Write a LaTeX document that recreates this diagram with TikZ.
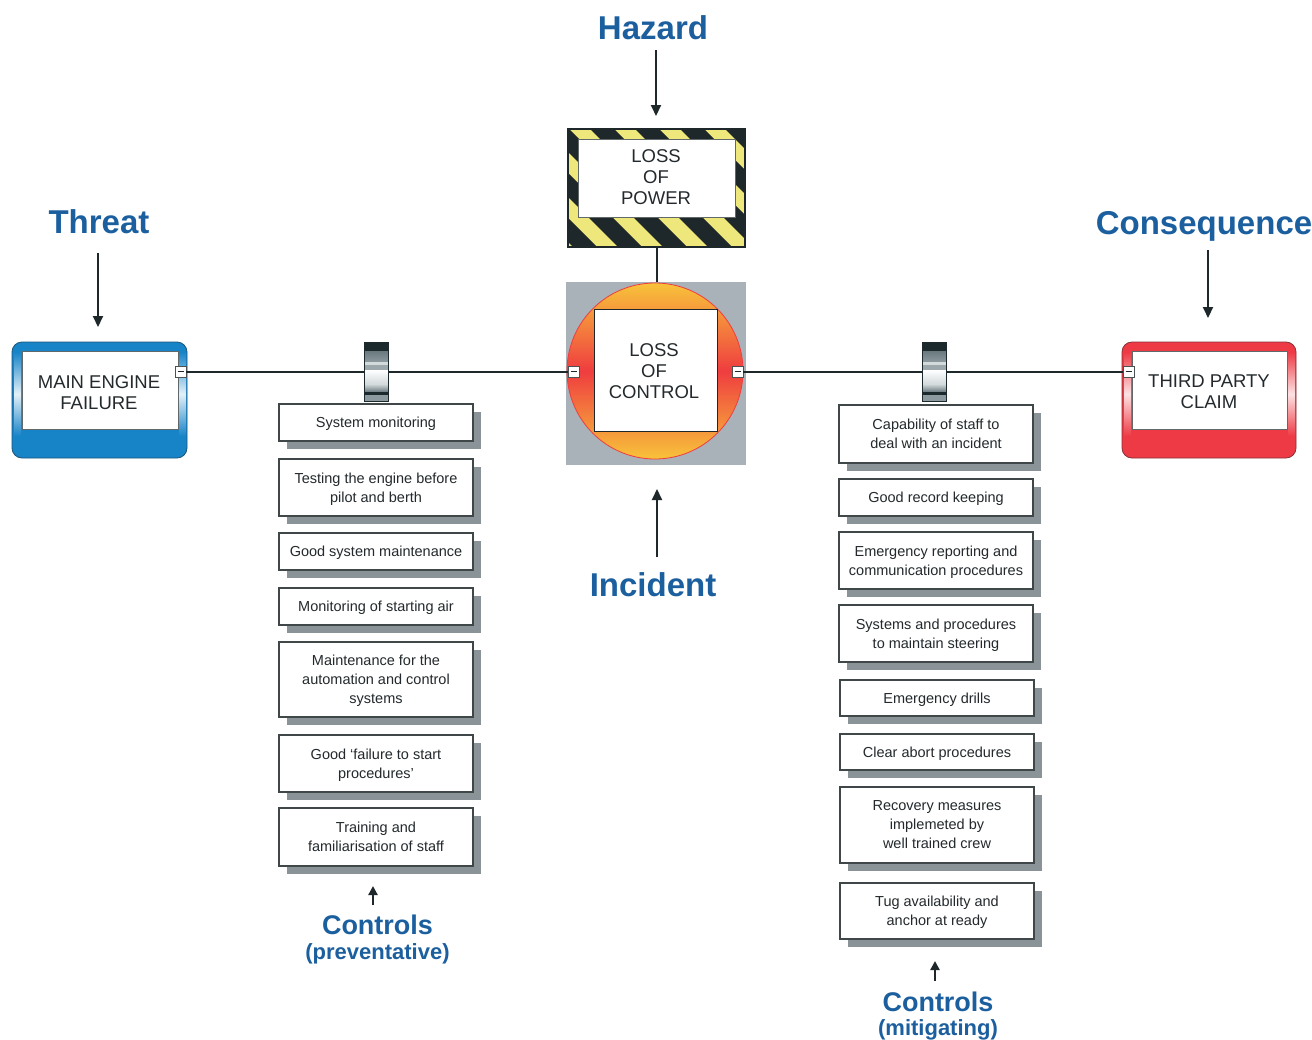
\documentclass[tikz,border=0pt]{standalone}
\usepackage{fontspec}
\setmainfont{Liberation Sans}
\usetikzlibrary{arrows.meta,shadows}
\definecolor{lblue}{HTML}{1B5F9F}
\definecolor{ink}{HTML}{1E2729}
\definecolor{txt}{HTML}{23292C}
\definecolor{shgray}{HTML}{8A9398}
\definecolor{sqgray}{HTML}{A9B1B9}
\definecolor{hyel}{HTML}{EEE87C}
\definecolor{tblue}{HTML}{1784C8}
\definecolor{cred}{HTML}{EE3A44}
\definecolor{cyel}{HTML}{F8C33A}
\definecolor{cmid}{HTML}{EF3D3F}
\definecolor{bdark}{HTML}{1C2A2E}
\definecolor{bgray}{HTML}{8C999E}
\definecolor{bmid}{HTML}{6A797E}
\definecolor{blight}{HTML}{D3DADC}
\newcommand{\barrierat}[1]{%
 \fill[bdark] ({#1-12},342) rectangle ({#1+12},351);
 \fill[top color=bmid, bottom color=bgray] ({#1-12},351) rectangle ({#1+12},362);
 \fill[blight] ({#1-12},362) rectangle ({#1+12},365);
 \fill[bgray!85!white] ({#1-12},365) rectangle ({#1+12},370);
 \fill[top color=white, bottom color=blight] ({#1-12},370) rectangle ({#1+12},384);
 \fill[top color=blight, bottom color=bmid] ({#1-12},384) rectangle ({#1+12},392);
 \fill[bdark] ({#1-12},392) rectangle ({#1+12},395);
 \fill[bgray] ({#1-12},395) rectangle ({#1+12},401);
 \draw[bdark, line width=0.8pt] ({#1-12},342) rectangle ({#1+12},401);
}
\begin{document}
\begin{tikzpicture}[x=1pt,y=-1pt,
  conn/.style={draw=ink, line width=2pt},
  ctrl/.style={draw=ink!85, line width=1.1pt, fill=white, minimum width=194pt, inner sep=0pt, align=center, font=\fontsize{14.5}{19}\selectfont, text=txt, drop shadow={shadow xshift=8pt, shadow yshift=-8pt, opacity=1, fill=shgray}},
  lbl/.style={text=lblue, anchor=base, font=\fontsize{33}{36}\selectfont\bfseries},
  sublbl/.style={text=lblue, anchor=base, font=\fontsize{27}{30}\selectfont\bfseries},
  subsub/.style={text=lblue, anchor=base, font=\fontsize{22}{24}\selectfont\bfseries},
  evt/.style={text=txt, align=center, font=\fontsize{18.5}{21}\selectfont},
  plain/.style={inner sep=0pt, outer sep=0pt},
  minusbox/.style={draw=ink!80, fill=white, line width=0.8pt, minimum width=11pt, minimum height=11pt, inner sep=0pt, path picture={\draw[ink, line width=0.9pt] ([xshift=-3pt]path picture bounding box.center) -- ([xshift=3pt]path picture bounding box.center);}},
  arr/.style={draw=ink, line width=2pt, -{Triangle[length=11pt,width=10pt]}},
  sarr/.style={draw=ink, line width=2.2pt, -{Triangle[length=9pt,width=9pt]}},
]
\useasboundingbox (0,0) rectangle (1312,1039);
\fill[white] (0,0) rectangle (1312,1039);

% ---------- labels ----------
\node[lbl] (hazlbl) at (653,39) {Hazard};
\node[lbl] (thrlbl) at (99,233) {Threat};
\node[lbl] (conlbl) at (1204,234) {Consequence};
\node[lbl] (inclbl) at (653,596) {Incident};
\node[sublbl] (pc) at (377.5,934) {Controls};
\node[subsub] (pcs) at (377.5,959) {(preventative)};
\node[sublbl] (mc) at (938,1011) {Controls};
\node[subsub] (mcs) at (938,1035) {(mitigating)};

% ---------- arrows ----------
\coordinate (ha1) at (656,50);  \coordinate (ha2) at (656,116);
\coordinate (ta1) at (98,253);  \coordinate (ta2) at (98,327);
\coordinate (ca1) at (1208,250); \coordinate (ca2) at (1208,318);
\coordinate (ia1) at (657,557); \coordinate (ia2) at (657,489);
\coordinate (pa1) at (373,905); \coordinate (pa2) at (373,886);
\coordinate (ma1) at (935,981); \coordinate (ma2) at (935,961);
\draw[arr] (ha1) -- (ha2);
\draw[arr] (ta1) -- (ta2);
\draw[arr] (ca1) -- (ca2);
\draw[arr] (ia1) -- (ia2);
\draw[sarr] (pa1) -- (pa2);
\draw[sarr] (ma1) -- (ma2);

% ---------- hazard box ----------
\node[plain, minimum width=177pt, minimum height=118pt, fill=hyel] (hazard) at (656.5,188) {};
\begin{scope}
\clip (568,129) rectangle (745,247);
\foreach \s in {410,455,...,790} {
  \fill[ink] (\s,129) -- ({\s+24},129) -- ({\s+142},247) -- ({\s+118},247) -- cycle;
}
\end{scope}
\draw[ink, line width=1.5pt] (568,129) rectangle (745,247);
\node[plain, fill=white, draw=ink!70, line width=0.8pt, minimum width=157pt, minimum height=78pt] (hazin) at (656.5,178) {};
\node[evt] (haztext) at (656,177) {LOSS\\OF\\POWER};

% ---------- incident ----------
\node[plain, fill=sqgray, minimum width=180pt, minimum height=183pt] (incsq) at (656,373.5) {};
\draw[conn] (hazard.south) -- (hazard.south |- incsq.north);
\node[circle, plain, minimum size=176pt, draw=cmid, line width=0.8pt, top color=cyel, bottom color=cyel, middle color=cmid] (incident) at (655,371) {};
\node[plain, fill=white, draw=ink, line width=1pt, minimum width=123pt, minimum height=122pt] (incin) at (655.5,370) {};
\node[evt] (inctext) at (654,371) {LOSS\\OF\\CONTROL};
\node[minusbox] (im1) at (573.5,371.5) {};
\node[minusbox] (im2) at (737.5,371.5) {};

% ---------- threat ----------
\node[plain, rounded corners=10pt, fill=tblue, draw=ink!50!tblue, line width=0.8pt, minimum width=175pt, minimum height=116pt] (threat) at (99.5,400) {};
\fill[top color=tblue, bottom color=tblue, middle color=white!88!tblue] (14,352) rectangle (21,436);
\fill[top color=tblue, bottom color=tblue, middle color=white!88!tblue] (179,352) rectangle (186,436);
\node[plain, fill=white, draw=ink!70, line width=0.8pt, minimum width=156pt, minimum height=78pt] (threatin) at (100,390.5) {};
\node[evt] (threattext) at (99,393) {MAIN ENGINE\\FAILURE};
\node[minusbox] (tm) at (180.5,371.5) {};

% ---------- consequence ----------
\node[plain, rounded corners=10pt, fill=cred, draw=ink!50!cred, line width=0.8pt, minimum width=174pt, minimum height=116pt] (conseq) at (1209,400) {};
\fill[top color=cred, bottom color=cred, middle color=white!85!cred] (1124,352) rectangle (1131,436);
\fill[top color=cred, bottom color=cred, middle color=white!85!cred] (1288,352) rectangle (1295,436);
\node[plain, fill=white, draw=ink!70, line width=0.8pt, minimum width=155pt, minimum height=78pt] (conin) at (1209.5,390) {};
\node[evt] (context) at (1209,392) {THIRD PARTY\\CLAIM};
\node[minusbox] (cm) at (1128.5,371.5) {};

% ---------- barriers ----------
\node[plain, minimum width=24pt, minimum height=59pt] (bar1) at (376,371.5) {};
\node[plain, minimum width=24pt, minimum height=59pt] (bar2) at (934,371.5) {};
\draw[conn] (tm.east) -- (bar1.west);
\draw[conn] (bar1.east) -- (im1.west);
\draw[conn] (im2.east) -- (bar2.west);
\draw[conn] (bar2.east) -- (cm.west);
\barrierat{376}
\barrierat{934}

% ---------- preventative controls ----------
\begin{scope}[every node/.append style={text depth=0pt}]
\node[ctrl, minimum height=37pt] (p1) at (376,422.5) {System monitoring};
\node[ctrl, minimum height=57pt] (p2) at (376,487.5) {Testing the engine before\\pilot and berth};
\node[ctrl, minimum height=37pt] (p3) at (376,551.5) {Good system maintenance};
\node[ctrl, minimum height=37pt] (p4) at (376,606.5) {Monitoring of starting air};
\node[ctrl, minimum height=75pt] (p5) at (376,679.5) {Maintenance for the\\automation and control\\systems};
\node[ctrl, minimum height=57pt] (p6) at (376,763.5) {Good ‘failure to start\\procedures’};
\node[ctrl, minimum height=58pt] (p7) at (376,837) {Training and\\familiarisation of staff};

% ---------- mitigating controls ----------
\node[ctrl, minimum height=58pt] (m1) at (936,434) {Capability of staff to\\deal with an incident};
\node[ctrl, minimum height=37pt] (m2) at (936,497.5) {Good record keeping};
\node[ctrl, minimum height=57pt] (m3) at (936,560.5) {Emergency reporting and\\communication procedures};
\node[ctrl, minimum height=57pt] (m4) at (936,633.5) {Systems and procedures\\to maintain steering};
\node[ctrl, minimum height=36pt] (m5) at (937,698) {Emergency drills};
\node[ctrl, minimum height=36pt] (m6) at (937,752) {Clear abort procedures};
\node[ctrl, minimum height=76pt] (m7) at (937,825) {Recovery measures\\implemeted by\\well trained crew};
\node[ctrl, minimum height=56pt] (m8) at (937,911) {Tug availability and\\anchor at ready};
\end{scope}
\end{tikzpicture}
\end{document}
